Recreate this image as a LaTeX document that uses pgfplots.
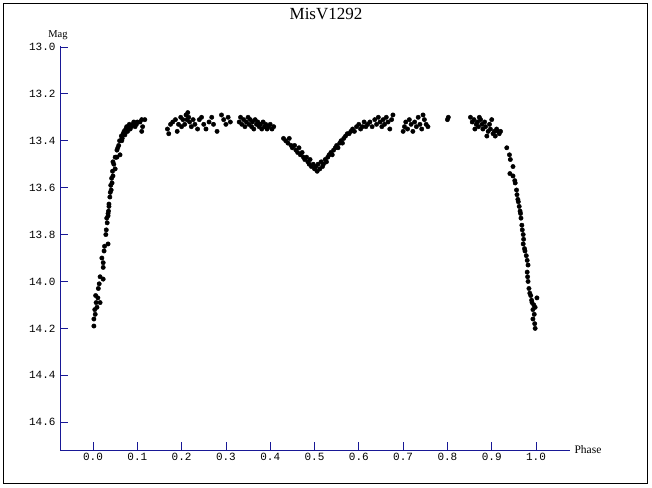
\documentclass[border=0pt]{standalone}
\usepackage{fontspec}
\setmainfont{Liberation Serif}
\setmonofont{Liberation Mono}
\usepackage{pgfplots}
\pgfplotsset{compat=1.18}
\definecolor{axblue}{RGB}{24,24,150}
\pgfplotstableread{
ph mag
0.002 14.19
0.002 14.16
0.005 14.14
0.004 14.12
0.009 14.11
0.007 14.09
0.016 14.09
0.011 14.07
0.006 14.06
0.014 14.01
0.016 13.98
0.023 13.99
0.012 14.03
0.023 13.94
0.023 13.92
0.020 13.90
0.025 13.87
0.026 13.85
0.034 13.84
0.029 13.80
0.030 13.78
0.032 13.75
0.031 13.73
0.034 13.71
0.034 13.72
0.035 13.70
0.036 13.67
0.036 13.68
0.038 13.64
0.039 13.62
0.041 13.61
0.040 13.59
0.043 13.58
0.042 13.56
0.045 13.55
0.044 13.53
0.050 13.52
0.047 13.50
0.045 13.49
0.050 13.47
0.052 13.47
0.054 13.47
0.061 13.46
0.054 13.44
0.056 13.43
0.058 13.42
0.060 13.40
0.065 13.40
0.064 13.38
0.068 13.37
0.072 13.375
0.070 13.36
0.075 13.36
0.074 13.35
0.078 13.36
0.080 13.34
0.084 13.35
0.082 13.33
0.086 13.34
0.090 13.33
0.092 13.32
0.095 13.34
0.098 13.33
0.100 13.32
0.106 13.32
0.110 13.31
0.117 13.31
0.110 13.36
0.112 13.34
0.066 13.39
0.076 13.34
0.168 13.35
0.171 13.37
0.175 13.33
0.180 13.32
0.186 13.31
0.190 13.36
0.193 13.33
0.198 13.30
0.200 13.34
0.203 13.31
0.207 13.33
0.210 13.29
0.212 13.31
0.214 13.28
0.216 13.30
0.218 13.32
0.222 13.34
0.226 13.31
0.230 13.33
0.236 13.35
0.240 13.31
0.245 13.30
0.250 13.33
0.255 13.35
0.262 13.32
0.268 13.30
0.272 13.33
0.280 13.36
0.290 13.29
0.295 13.31
0.300 13.33
0.305 13.30
0.310 13.32
0.330 13.32
0.333 13.30
0.336 13.33
0.340 13.31
0.343 13.34
0.346 13.32
0.350 13.30
0.352 13.33
0.355 13.31
0.358 13.34
0.360 13.32
0.363 13.35
0.366 13.31
0.369 13.33
0.372 13.32
0.375 13.34
0.378 13.33
0.381 13.35
0.384 13.32
0.387 13.34
0.390 13.33
0.393 13.35
0.396 13.34
0.400 13.33
0.404 13.35
0.408 13.34
0.430 13.39
0.435 13.40
0.440 13.41
0.443 13.39
0.447 13.42
0.450 13.43
0.455 13.42
0.458 13.44
0.462 13.45
0.465 13.43
0.468 13.46
0.472 13.45
0.475 13.47
0.478 13.48
0.482 13.47
0.485 13.49
0.488 13.50
0.490 13.48
0.493 13.51
0.497 13.50
0.500 13.52
0.503 13.51
0.506 13.53
0.508 13.50
0.512 13.52
0.515 13.49
0.518 13.51
0.520 13.50
0.524 13.48
0.527 13.49
0.530 13.47
0.533 13.46
0.537 13.45
0.540 13.46
0.543 13.44
0.547 13.43
0.550 13.42
0.553 13.43
0.557 13.41
0.560 13.40
0.563 13.41
0.566 13.39
0.570 13.38
0.574 13.37
0.578 13.37
0.582 13.36
0.586 13.35
0.590 13.36
0.595 13.34
0.600 13.33
0.604 13.35
0.608 13.34
0.612 13.32
0.616 13.34
0.620 13.33
0.625 13.32
0.630 13.34
0.636 13.31
0.640 13.33
0.644 13.30
0.648 13.32
0.652 13.34
0.655 13.31
0.658 13.33
0.662 13.30
0.666 13.32
0.670 13.35
0.674 13.31
0.677 13.29
0.700 13.36
0.703 13.34
0.706 13.32
0.710 13.35
0.714 13.31
0.718 13.33
0.722 13.36
0.726 13.32
0.730 13.34
0.734 13.30
0.738 13.33
0.742 13.35
0.745 13.29
0.748 13.31
0.752 13.33
0.756 13.34
0.800 13.31
0.802 13.30
0.852 13.30
0.856 13.32
0.860 13.31
0.862 13.35
0.865 13.33
0.868 13.32
0.870 13.34
0.872 13.30
0.875 13.31
0.878 13.33
0.880 13.35
0.884 13.32
0.886 13.34
0.889 13.38
0.892 13.36
0.895 13.33
0.897 13.35
0.900 13.31
0.903 13.37
0.906 13.36
0.908 13.38
0.911 13.35
0.914 13.36
0.917 13.37
0.920 13.36
0.934 13.43
0.940 13.46
0.942 13.48
0.948 13.51
0.941 13.54
0.948 13.55
0.952 13.57
0.953 13.58
0.956 13.61
0.957 13.63
0.959 13.65
0.960 13.66
0.962 13.68
0.964 13.70
0.965 13.71
0.966 13.73
0.968 13.76
0.969 13.78
0.971 13.80
0.972 13.82
0.971 13.84
0.974 13.86
0.975 13.87
0.978 13.89
0.980 13.91
0.982 13.93
0.980 13.96
0.981 13.98
0.982 14.00
0.984 14.03
0.986 14.05
0.988 14.06
1.002 14.07
0.990 14.08
0.991 14.09
0.995 14.10
0.998 14.11
0.993 14.12
0.996 14.14
0.993 14.16
0.997 14.18
0.998 14.20
}\lc
\begin{document}
\begin{tikzpicture}[x=1pt,y=1pt]
\useasboundingbox (0,0) rectangle (652,487);
\draw[line width=1.5pt] (3.5,3.5) rectangle (647.5,483.5);
\begin{axis}[
  at={(60pt,37pt)}, anchor=south west,
  scale only axis, width=510pt, height=404pt,
  xmin=-0.0745, xmax=1.0767, ymin=12.996, ymax=14.7186, y dir=reverse,
  axis x line=bottom, axis y line=left,
  axis line style={axblue, line width=0.8pt, -},
  xtick={0,0.1,0.2,0.3,0.4,0.5,0.6,0.7,0.8,0.9,1.0},
  ytick={13.0,13.2,13.4,13.6,13.8,14.0,14.2,14.4,14.6},
  tick align=inside, major tick length=8pt,
  every tick/.style={axblue, line width=0.8pt},
  /pgf/number format/assume math mode=true,
  x tick label style={font=\ttfamily\fontsize{11}{13}\selectfont,
    /pgf/number format/fixed, /pgf/number format/fixed zerofill, /pgf/number format/precision=1},
  y tick label style={font=\ttfamily\fontsize{11}{13}\selectfont, xshift=-1pt,
    /pgf/number format/fixed, /pgf/number format/fixed zerofill, /pgf/number format/precision=1},
  clip=false,
]
\addplot[only marks, mark=*, mark size=2.2pt, mark options={fill=black, draw=black}] table[x=ph, y=mag] {\lc};
\end{axis}
\node at (326,473) {\fontsize{17}{19}\selectfont MisV1292};
\node at (58,452) {\fontsize{10.5}{12}\selectfont Mag};
\node[anchor=west] at (571,37) {\fontsize{11.5}{13}\selectfont Phase};
\end{tikzpicture}
\end{document}
